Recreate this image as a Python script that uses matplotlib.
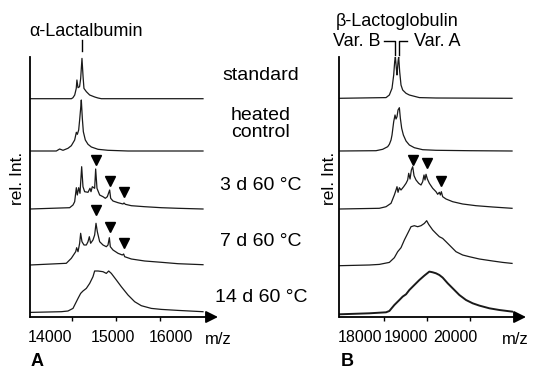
import matplotlib
matplotlib.use('Agg')
import matplotlib.pyplot as plt
from matplotlib.transforms import ScaledTranslation, blended_transform_factory

plt.rcParams['font.family'] = ['Liberation Sans', 'DejaVu Sans']

# ---------------- data (m/z, relative intensity) ----------------
CONDITIONS = ['standard', 'heated\ncontrol', '3 d 60 °C', '7 d 60 °C', '14 d 60 °C']

# Panel A: alpha-lactalbumin
A_STD_MZ = [13040, 13980, 14015, 14055, 14090, 14105, 14130, 14165, 14190, 14220, 14245, 14265, 14320, 14395, 14510, 14585, 14660, 16970]
A_STD_I = [0, 0, 1, 3.7, 10.3, 18.7, 11, 12, 20, 40.3, 22, 10.3, 7, 3.7, 1.7, 0.7, 0, 0]

A_HEAT_MZ = [13040, 13637, 13713, 13789, 13902, 13978, 14054, 14092, 14115, 14145, 14167, 14190, 14205, 14228, 14251, 14296, 14357, 14433, 14584, 14811, 15266, 16970]
A_HEAT_I = [0, 0, 2, 0.7, 2.7, 5.3, 11, 18.7, 16.7, 21, 31, 42.7, 51, 32.7, 19.3, 11, 6.7, 4, 1.7, 0.7, 0, 0]

A_3D_MZ = [13040, 13940, 14016, 14054, 14092, 14114, 14145, 14175, 14213, 14243, 14281, 14357, 14402, 14425, 14455, 14508, 14531, 14561, 14622, 14698, 14751, 14796, 14849, 14872, 14925, 15039, 15152, 15175, 15205, 15342, 15645, 16023, 16402, 16970]
A_3D_I = [0, 1.3, 4, 7.3, 21.3, 14, 21.3, 15.7, 42.3, 22.3, 17.3, 16.7, 20.7, 17.3, 22.3, 20.7, 40, 20.7, 14, 12.3, 10.7, 12.3, 19, 10.7, 8, 6.3, 5, 6, 4.7, 3.3, 2.3, 1.3, 0.7, 0]

A_7D_MZ = [13040, 13864, 13978, 14077, 14099, 14130, 14167, 14190, 14220, 14266, 14319, 14357, 14387, 14417, 14470, 14508, 14539, 14569, 14622, 14698, 14773, 14811, 14842, 14864, 14925, 15039, 15137, 15167, 15190, 15342, 15645, 16023, 16402, 16970]
A_7D_I = [0, 1.7, 6.7, 13.3, 17.3, 13.3, 21.7, 31.7, 23.3, 20, 20, 23.3, 28.3, 21.7, 25, 30, 41.7, 33.3, 23.3, 20, 18.3, 20, 27.3, 18.3, 15, 11.7, 10, 11, 8.3, 6, 4, 2.7, 1.3, 0.3]

A_14D_MZ = [13040, 13751, 13902, 14016, 14130, 14190, 14243, 14319, 14395, 14470, 14508, 14584, 14698, 14773, 14827, 14887, 15001, 15114, 15266, 15417, 15569, 15796, 16023, 16402, 16970]
A_14D_I = [0.3, 1, 1.7, 4.3, 14.3, 19.3, 21.7, 24.3, 29.3, 36, 41.7, 41.7, 41, 39.3, 41.7, 39.3, 32.7, 26, 17.7, 11, 7, 4.3, 3.3, 2.3, 1]

A_3D_MARK_MZ = [14531, 14849, 15170]
A_3D_MARK_I = [49, 28, 17.3]
A_7D_MARK_MZ = [14539, 14856, 15175]
A_7D_MARK_I = [55, 38.3, 21.7]
A_PEAK = 14220

# Panel B: beta-lactoglobulin
B_STD_MZ = [16961, 18047, 18124, 18186, 18225, 18248, 18264, 18287, 18302, 18326, 18341, 18364, 18395, 18434, 18512, 18589, 18705, 18822, 19209, 20977]
B_STD_I = [0, 0.7, 3.3, 10, 23.3, 36.7, 41.7, 30, 23.3, 36.7, 41.7, 26.7, 13.3, 8.3, 5, 3.3, 2, 0.7, 0.3, 0]

B_HEAT_MZ = [16961, 17814, 17969, 18085, 18124, 18163, 18186, 18225, 18256, 18279, 18302, 18326, 18357, 18380, 18411, 18450, 18512, 18589, 18705, 18899, 19209, 19984, 20977]
B_HEAT_I = [0, 0.3, 1.7, 4.3, 6.7, 11, 16, 29.3, 36, 32, 34.3, 41, 43.3, 32.7, 22.7, 16, 10, 6, 3.3, 1.3, 0.7, 0.3, 0]

B_3D_MZ = [16961, 17891, 18047, 18163, 18240, 18279, 18302, 18326, 18357, 18395, 18457, 18512, 18550, 18574, 18605, 18636, 18667, 18698, 18744, 18806, 18860, 18899, 18930, 18953, 18977, 19008, 19054, 19132, 19209, 19248, 19287, 19310, 19333, 19364, 19442, 19597, 19829, 20140, 20527, 20977]
B_3D_I = [0, 0.7, 2.3, 5.7, 14, 19, 22.3, 16.7, 21.3, 19, 22.3, 25.7, 29, 35.7, 30, 39, 42.3, 33.3, 29, 25.7, 24, 27.3, 34, 29, 34.7, 30, 25.7, 20.7, 17.3, 14.7, 16.7, 14, 17.3, 12.3, 10, 7.3, 5, 3.3, 2, 0.7]

B_7D_MZ = [16961, 17659, 17891, 18124, 18240, 18318, 18395, 18473, 18550, 18628, 18705, 18783, 18860, 18938, 18992, 19039, 19132, 19209, 19287, 19364, 19442, 19558, 19674, 19829, 19984, 20217, 20527, 20760, 20977]
B_7D_I = [0, 0.7, 1.3, 3.3, 8, 14, 18, 25.7, 32.3, 39, 40, 39, 40, 42.3, 45, 41.3, 35.7, 32.3, 29, 27.3, 24, 19, 14, 10.7, 9, 6.7, 4.7, 3.3, 2.3]

B_14D_MZ = [16961, 17659, 18047, 18124, 18240, 18357, 18434, 18512, 18589, 18705, 18822, 18938, 19054, 19132, 19209, 19287, 19364, 19481, 19597, 19752, 19907, 20062, 20217, 20450, 20682, 20977]
B_14D_I = [0, 1, 2, 3.3, 9.3, 14.3, 17.7, 20, 24.3, 29.3, 34.3, 38.7, 42.7, 42, 41, 39.3, 36.7, 31, 26, 19.3, 14.3, 11, 8.7, 6, 4.3, 2.7]

B_3D_MARK_MZ = [18667, 19000, 19333]
B_3D_MARK_I = [49, 45.7, 28]
B_PEAKS = [18264, 18341]

A_TICKS = [14000, 15000, 16000]
B_TICKS = [18000, 19000, 20000]

# ---------------- layout ----------------
W, H = 538, 369
OFFSETS_A = [218.3, 166, 108, 52, 4.3]
OFFSETS_B = [218.7, 166, 108, 51.3, 2.7]
AX_TOP, AX_BOT = 57, 317

fig = plt.figure(figsize=(W / 100, H / 100), dpi=100)


def rect(l, r, t, b):
    return [l / W, 1 - b / H, (r - l) / W, (b - t) / H]


def fpos(x, y):
    return (x / W, 1 - y / H)


def setup(ax, xlim, ticks, label_dx):
    ax.set_xlim(*xlim)
    ax.set_ylim(0, AX_BOT - AX_TOP)
    ax.patch.set_visible(False)
    for s in ['top', 'right', 'bottom']:
        ax.spines[s].set_visible(False)
    ax.spines['left'].set_linewidth(1.3)
    ax.set_yticks([])
    ax.set_xticks(ticks)
    ax.set_xticklabels([str(t) for t in ticks], fontsize=11.5)
    ax.tick_params(axis='x', direction='out', length=3, width=1, pad=6)
    ax.annotate('', xy=(1, 0), xytext=(0, 0), xycoords='axes fraction',
                arrowprops=dict(arrowstyle='-|>', lw=1.3, color='k',
                                mutation_scale=18, shrinkA=0, shrinkB=0),
                annotation_clip=False)
    for lab, dx in zip(ax.get_xticklabels(), label_dx):
        lab.set_transform(lab.get_transform() + ScaledTranslation(dx / 100, 0, fig.dpi_scale_trans))


axA = fig.add_axes(rect(30, 218, AX_TOP, AX_BOT))
axB = fig.add_axes(rect(339.3, 526, AX_TOP, AX_BOT))
setup(axA, (13039, 17311), A_TICKS, [-22, -3, 11])
setup(axB, (16960, 21302), B_TICKS, [-24.5, -21, -15])

A_SPECTRA = [(A_STD_MZ, A_STD_I), (A_HEAT_MZ, A_HEAT_I), (A_3D_MZ, A_3D_I), (A_7D_MZ, A_7D_I), (A_14D_MZ, A_14D_I)]
B_SPECTRA = [(B_STD_MZ, B_STD_I), (B_HEAT_MZ, B_HEAT_I), (B_3D_MZ, B_3D_I), (B_7D_MZ, B_7D_I), (B_14D_MZ, B_14D_I)]

for (mz, inten), off in zip(A_SPECTRA, OFFSETS_A):
    axA.plot(mz, [v + off for v in inten], color='#1a1a1a', lw=0.9)
for i, ((mz, inten), off) in enumerate(zip(B_SPECTRA, OFFSETS_B)):
    lw = 1.4 if i == 4 else 0.9
    axB.plot(mz, [v + off for v in inten], color='#1a1a1a', lw=lw)

MK = dict(marker='v', color='k', ms=7.5, ls='none', clip_on=False)
axA.plot(A_3D_MARK_MZ, [v + OFFSETS_A[2] for v in A_3D_MARK_I], **MK)
axA.plot(A_7D_MARK_MZ, [v + OFFSETS_A[3] for v in A_7D_MARK_I], **MK)
axB.plot(B_3D_MARK_MZ, [v + OFFSETS_B[2] for v in B_3D_MARK_I], **MK)

# peak annotations above the panels
hA = AX_BOT - AX_TOP
trA = blended_transform_factory(axA.transData, axA.transAxes)
axA.plot([A_PEAK, A_PEAK], [1 + 6 / hA, 1 + 17 / hA], transform=trA, clip_on=False, color='k', lw=1)
fig.text(*fpos(86.5, 31), 'α-Lactalbumin', ha='center', va='center', fontsize=13)

trB = blended_transform_factory(axB.transData, axB.transAxes)
y_lo, y_hi = 1 + 2 / hA, 1 + 16 / hA
axB.plot([B_PEAKS[0] - 270, B_PEAKS[0], B_PEAKS[0]], [y_hi, y_hi, y_lo], transform=trB, clip_on=False, color='k', lw=1)
axB.plot([B_PEAKS[1] + 190, B_PEAKS[1], B_PEAKS[1]], [y_hi, y_hi, y_lo], transform=trB, clip_on=False, color='k', lw=1)
fig.text(*fpos(397.5, 21), 'β-Lactoglobulin', ha='center', va='center', fontsize=13)
fig.text(*fpos(357, 41), 'Var. B', ha='center', va='center', fontsize=13)
fig.text(*fpos(437, 41), 'Var. A', ha='center', va='center', fontsize=13)

# condition labels between panels
LABEL_Y = [76, 124, 186, 242, 297]
for lab, y in zip(CONDITIONS, LABEL_Y):
    fig.text(*fpos(261, y), lab, ha='center', va='center', fontsize=14, linespacing=1.0)

# axis labels
fig.text(*fpos(17, 178), 'rel. Int.', rotation=90, ha='center', va='center', fontsize=12.5)
fig.text(*fpos(329, 178), 'rel. Int.', rotation=90, ha='center', va='center', fontsize=12.5)
fig.text(*fpos(218, 339), 'm/z', ha='center', va='center', fontsize=12)
fig.text(*fpos(515, 339), 'm/z', ha='center', va='center', fontsize=12)
fig.text(*fpos(37, 361), 'A', ha='center', va='center', fontsize=13, fontweight='bold')
fig.text(*fpos(347, 361), 'B', ha='center', va='center', fontsize=13, fontweight='bold')

fig.savefig('out.png', dpi=100)
